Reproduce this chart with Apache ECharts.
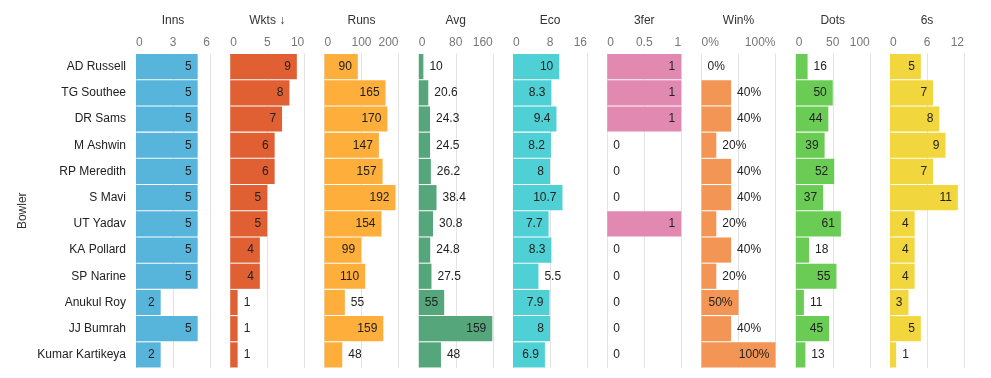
<!DOCTYPE html>
<html><head><meta charset="utf-8">
<script src="https://cdn.jsdelivr.net/npm/echarts@6/dist/echarts.min.js"></script>
<style>html,body{margin:0;padding:0;background:#fff}#c{width:991px;height:378px}</style>
</head><body><div id="c"></div>
<script>
const bowlers = ['AD Russell','TG Southee','DR Sams','M Ashwin','RP Meredith','S Mavi','UT Yadav','KA Pollard','SP Narine','Anukul Roy','JJ Bumrah','Kumar Kartikeya'];
const inns  = [5,5,5,5,5,5,5,5,5,2,5,2];
const wkts  = [9,8,7,6,6,5,5,4,4,1,1,1];
const runs  = [90,165,170,147,157,192,154,99,110,55,159,48];
const avg   = [10,20.6,24.3,24.5,26.2,38.4,30.8,24.8,27.5,55,159,48];
const eco   = [10,8.3,9.4,8.2,8,10.7,7.7,8.3,5.5,7.9,8,6.9];
const fer3  = [1,1,1,0,0,0,1,0,0,0,0,0];
const winPct= [0,40,40,20,40,40,20,40,20,50,40,100];
const dots  = [16,50,44,39,52,37,61,18,55,11,45,13];
const sixes = [5,7,8,9,7,11,4,4,4,3,5,1];

const headers = ['Inns','Wkts \u2193','Runs','Avg','Eco','3fer','Win%','Dots','6s'];
const axisMax = [6,10,200,160,16,1,100,100,12];
const axisStep = [3,5,100,80,8,0.5,50,50,6];
const suffixes = ['','','','','','','%','',''];
const seriesData = [inns,wkts,runs,avg,eco,fer3,winPct,dots,sixes];
const colors = ['#57b5dc','#e06033','#fdae3b','#55a67a','#4fd0d4','#e289b2','#f39655','#6acc55','#f2d63e'];

(function () {
const FONT = 'Liberation Sans, Arial, sans-serif';
const FS = 12;
const left0 = 136, pitch = 94.25, pw = 74, gTop = 53.5, ph = 314.5;

const cv = document.createElement('canvas').getContext('2d');
cv.font = FS + 'px ' + FONT;

const grid = [], xAxis = [], yAxis = [], series = [];
headers.forEach((h, i) => {
  grid.push({left: left0 + i * pitch, top: gTop, width: pw, height: ph});
  xAxis.push({
    type: 'value', gridIndex: i, position: 'top', min: 0, max: axisMax[i], interval: axisStep[i],
    name: h, nameLocation: 'middle', nameGap: 27,
    nameTextStyle: {color: '#333', fontSize: FS, fontFamily: FONT},
    axisLine: {show: false}, axisTick: {show: false},
    axisLabel: {color: '#777', fontSize: FS, fontFamily: FONT, margin: 5,
      alignMinLabel: 'left', alignMaxLabel: 'right',
      formatter: v => (i === 6 && v === 50) ? '' : (v + suffixes[i])},
    splitLine: {show: true, lineStyle: {color: '#e3e3e3', width: 1}}
  });
  yAxis.push({
    type: 'category', gridIndex: i, data: bowlers, inverse: true,
    axisLine: {show: false}, axisTick: {show: false},
    axisLabel: {show: i === 0, color: '#222', fontSize: FS, fontFamily: FONT, margin: 10},
    name: i === 0 ? 'Bowler' : '', nameLocation: 'middle', nameRotate: 90, nameGap: 107,
    nameTextStyle: {color: '#333', fontSize: FS, fontFamily: FONT}
  });
  const data = seriesData[i].map(v => {
    const txt = v + suffixes[i];
    const tw = cv.measureText(txt).width;
    const bw = v / axisMax[i] * pw;
    const inside = bw - tw >= 11;
    return {value: v, label: {position: inside ? 'insideRight' : 'right'}};
  });
  series.push({
    type: 'bar', xAxisIndex: i, yAxisIndex: i, data: data,
    barCategoryGap: '4%', itemStyle: {color: colors[i]},
    label: {show: true, distance: 6, color: '#222', fontSize: FS, fontFamily: FONT,
      formatter: p => p.value + suffixes[i]},
    silent: true, animation: false
  });
});

const chart = echarts.init(document.getElementById('c'), null, {renderer: 'canvas'});
chart.setOption({animation: false, grid, xAxis, yAxis, series});
})();
</script></body></html>
